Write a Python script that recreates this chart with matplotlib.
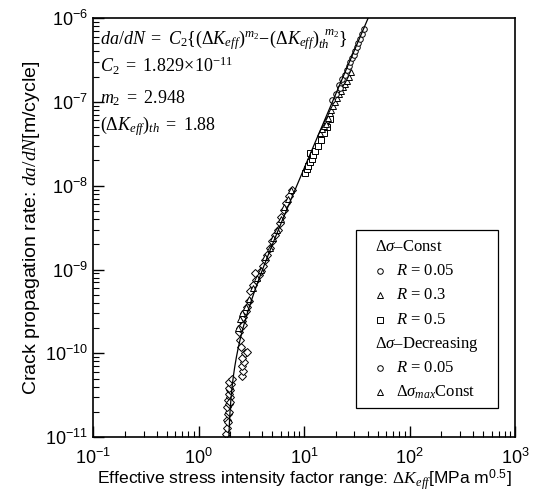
import numpy as np
import matplotlib
matplotlib.use("Agg")
import matplotlib.pyplot as plt
from matplotlib.patches import Rectangle

# ---------------- data ----------------
C2 = 1.829e-11
m2 = 2.948
dK_th = 1.88

# Δσ–Const, R = 0.05 (circles)
const_r005_dk = [18.5, 20.0, 21.5, 22.0, 23.0, 24.5, 25.5, 26.5, 27.5, 28.5, 29.5, 30.5, 31.5, 32.5, 34.0, 35.5, 37.0]
const_r005_da = [1.05e-7, 1.25e-7, 1.6e-7, 1.45e-7, 1.9e-7, 2.1e-7, 2.4e-7, 2.7e-7, 3.0e-7, 3.3e-7, 3.6e-7, 4.0e-7, 4.5e-7, 5.0e-7, 5.6e-7, 6.4e-7, 7.5e-7]

# Δσ–Const, R = 0.3 (triangles)
const_r03_dk = [14.0, 14.8, 15.5, 16.0, 16.2, 16.8, 17.5, 18.0, 18.8, 19.5, 20.5, 21.5, 22.5, 23.5, 24.5, 25.5, 26.5, 28.0]
const_r03_da = [4.2e-8, 4.8e-8, 5.2e-8, 6.0e-8, 5.5e-8, 6.5e-8, 7.3e-8, 8.0e-8, 9.0e-8, 1.0e-7, 1.1e-7, 1.25e-7, 1.35e-7, 1.5e-7, 1.65e-7, 1.8e-7, 2.0e-7, 2.3e-7]

# Δσ–Const, R = 0.5 (squares)
const_r05_dk = [10.2, 10.6, 11.0, 11.3, 11.4, 11.8, 12.2, 12.8, 13.5, 14.5, 15.5, 16.5, 17.5]
const_r05_da = [1.4e-8, 1.6e-8, 1.7e-8, 2.45e-8, 1.9e-8, 2.1e-8, 2.3e-8, 2.6e-8, 3.0e-8, 3.5e-8, 4.3e-8, 5.0e-8, 6.2e-8]

# Δσ–Decreasing, R = 0.05
dec_r005_dk = [1.82, 1.86, 1.84, 1.90, 1.88, 1.93, 1.86, 1.95, 1.90, 1.98, 1.92, 2.00, 1.96, 2.04, 1.94, 2.08, 1.99,
               2.55, 2.62, 2.58, 2.70, 2.60, 2.75, 2.90, 2.50, 2.45, 2.40,
               2.45, 2.55, 2.62, 2.70, 2.80, 2.90, 3.00, 2.65,
               3.1, 3.3, 3.5, 3.7, 3.9, 4.1, 4.3, 3.4,
               4.4, 4.7, 5.0, 5.3, 5.6, 5.9,
               6.0, 6.4, 6.8, 7.2, 7.6]
dec_r005_da = [1.1e-11, 1.3e-11, 1.6e-11, 1.5e-11, 1.9e-11, 2.0e-11, 2.3e-11, 2.5e-11, 2.8e-11, 3.0e-11, 3.3e-11, 3.6e-11, 3.9e-11, 4.3e-11, 4.6e-11, 5.0e-11, 2.6e-11,
               5.3e-11, 6.2e-11, 7.0e-11, 7.8e-11, 8.8e-11, 1.0e-10, 1.05e-10, 1.2e-10, 1.45e-10, 1.8e-10,
               2.0e-10, 2.4e-10, 2.7e-10, 3.0e-10, 3.2e-10, 3.6e-10, 4.2e-10, 2.2e-10,
               5.5e-10, 6.5e-10, 7.5e-10, 8.5e-10, 9.5e-10, 1.1e-9, 1.3e-9, 9.0e-10,
               1.5e-9, 1.8e-9, 2.2e-9, 2.6e-9, 3.0e-9, 3.6e-9,
               4.2e-9, 5.2e-9, 6.3e-9, 7.5e-9, 9.0e-9]

# Δσmax Const (triangles)
dsmax_dk = [2.35, 2.45, 2.6, 2.8, 3.0, 3.3, 3.6, 3.9, 4.3, 4.7, 5.1, 5.5, 6.0, 6.5, 7.0, 7.5]
dsmax_da = [2.0e-10, 2.6e-10, 3.0e-10, 3.6e-10, 4.5e-10, 6.0e-10, 8.0e-10, 1.0e-9, 1.4e-9, 1.8e-9, 2.4e-9, 3.0e-9, 4.0e-9, 5.5e-9, 7.0e-9, 9.0e-9]

legend_rows = [(None, r"$\Delta\sigma$–Const"),
               ('o', r"$R$ = 0.05"),
               ('^', r"$R$ = 0.3"),
               ('s', r"$R$ = 0.5"),
               (None, r"$\Delta\sigma$–Decreasing"),
               ('o', r"$R$ = 0.05"),
               ('^', r"$\Delta\sigma_{max}$Const")]

# ---------------- style ----------------
plt.rcParams['font.family'] = ['Liberation Sans', 'DejaVu Sans']
plt.rcParams['mathtext.fontset'] = 'custom'
plt.rcParams['mathtext.rm'] = 'Liberation Serif'
plt.rcParams['mathtext.it'] = 'Liberation Serif:italic'
plt.rcParams['mathtext.bf'] = 'Liberation Serif:bold'

fig = plt.figure(figsize=(5.45, 5.03), dpi=100)
ax = fig.add_axes([0.171, 0.131, 0.774, 0.833])

mk = dict(linestyle='none', markerfacecolor='white', markeredgecolor='black',
          markeredgewidth=0.7)

ax.plot(dec_r005_dk, dec_r005_da, marker='D', markersize=3.8, **mk)
ax.plot(dsmax_dk, dsmax_da, marker='^', markersize=4.5, **mk)
ax.plot(const_r05_dk, const_r05_da, marker='s', markersize=4.0, **mk)
ax.plot(const_r03_dk, const_r03_da, marker='^', markersize=4.5, **mk)
ax.plot(const_r005_dk, const_r005_da, marker='o', markersize=4.0, **mk)

# fitted curve
dk = np.logspace(np.log10(dK_th * 1.0005), np.log10(45), 600)
ax.plot(dk, C2 * (dk ** m2 - dK_th ** m2), color='black', lw=0.9)

ax.set_xscale('log')
ax.set_yscale('log')
ax.set_xlim(1e-1, 1e3)
ax.set_ylim(1e-11, 1e-6)

ax.tick_params(which='both', direction='in', top=False, right=False, labelsize=13)
ax.tick_params(axis='x', which='both', pad=8)
ax.tick_params(which='major', length=8, width=1)
ax.tick_params(which='minor', length=4, width=0.8)
for s in ax.spines.values():
    s.set_linewidth(1.2)

ax.set_xlabel(r"Effective stress intensity factor range: $\Delta K_{eff}$[MPa m$^{\mathdefault{0.5}}$]",
              fontsize=12.6, labelpad=-1)
ax.set_ylabel(r"Crack propagation rate: $da/dN$[m/cycle]", fontsize=14, labelpad=2)

# equation annotations
tx = 0.017
fs = 13
ax.text(tx, 0.950, r"$da/dN\ =\ C_2\{(\Delta K_{eff})^{m_2}\!-\!(\Delta K_{eff})_{th}^{\ \ m_2}\}$",
        transform=ax.transAxes, fontsize=fs, va='center', ha='left')
ax.text(tx, 0.885, r"$C_2\ =\ 1.829\!\times\!10^{-11}$", transform=ax.transAxes,
        fontsize=fs, va='center', ha='left')
ax.text(tx, 0.810, r"$m_2\ =\ 2.948$", transform=ax.transAxes,
        fontsize=fs, va='center', ha='left')
ax.text(tx, 0.743, r"$(\Delta K_{eff})_{th}\ =\ 1.88$", transform=ax.transAxes,
        fontsize=fs, va='center', ha='left')

# legend (drawn manually)
ax.add_patch(Rectangle((0.623, 0.069), 0.337, 0.425, transform=ax.transAxes,
                       facecolor='white', edgecolor='black', lw=0.9, zorder=5))
row_y = [0.453, 0.396, 0.339, 0.279, 0.220, 0.165, 0.107]
for y, (m, lab) in zip(row_y, legend_rows):
    if m is None:
        ax.text(0.668, y, lab, transform=ax.transAxes, fontsize=12,
                family='Liberation Serif', va='center', ha='left', zorder=6)
    else:
        ax.plot([0.680], [y], marker=m, markersize=4, transform=ax.transAxes,
                zorder=6, clip_on=False, **mk)
        ax.text(0.718, y, lab, transform=ax.transAxes, fontsize=12,
                family='Liberation Serif', va='center', ha='left', zorder=6)

fig.savefig('out.png', dpi=100)
